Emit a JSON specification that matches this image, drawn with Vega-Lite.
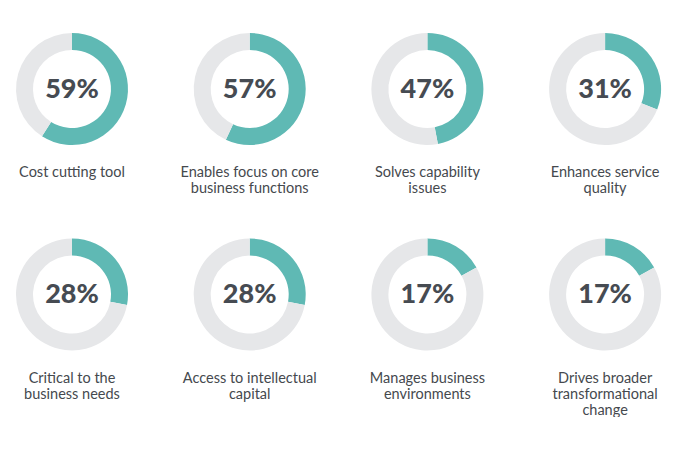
{
  "$schema": "https://vega.github.io/schema/vega-lite/v6.json",
  "padding": 0,
  "background": "white",
  "bounds": "flush",
  "config": {"view": {"stroke": null}, "header": {"labels": false, "title": null, "labelExpr": "''", "labelPadding": 0, "titlePadding": 0, "labelFontSize": 0}},
  "data": {
    "values": [
      {"rank": 1, "cat": "Cost cutting tool", "label": ["Cost cutting tool"], "seg": "a", "value": 0.59},
      {"rank": 1, "cat": "Cost cutting tool", "label": ["Cost cutting tool"], "seg": "b", "value": 0.41},
      {"rank": 2, "cat": "Enables focus", "label": ["Enables focus on core", "business functions"], "seg": "a", "value": 0.57},
      {"rank": 2, "cat": "Enables focus", "label": ["Enables focus on core", "business functions"], "seg": "b", "value": 0.43},
      {"rank": 3, "cat": "Solves capability", "label": ["Solves capability", "issues"], "seg": "a", "value": 0.47},
      {"rank": 3, "cat": "Solves capability", "label": ["Solves capability", "issues"], "seg": "b", "value": 0.53},
      {"rank": 4, "cat": "Enhances service", "label": ["Enhances service", "quality"], "seg": "a", "value": 0.31},
      {"rank": 4, "cat": "Enhances service", "label": ["Enhances service", "quality"], "seg": "b", "value": 0.69},
      {"rank": 5, "cat": "Critical", "label": ["Critical to the", "business needs"], "seg": "a", "value": 0.28},
      {"rank": 5, "cat": "Critical", "label": ["Critical to the", "business needs"], "seg": "b", "value": 0.72},
      {"rank": 6, "cat": "Access", "label": ["Access to intellectual", "capital"], "seg": "a", "value": 0.28},
      {"rank": 6, "cat": "Access", "label": ["Access to intellectual", "capital"], "seg": "b", "value": 0.72},
      {"rank": 7, "cat": "Manages", "label": ["Manages business", "environments"], "seg": "a", "value": 0.17},
      {"rank": 7, "cat": "Manages", "label": ["Manages business", "environments"], "seg": "b", "value": 0.83},
      {"rank": 8, "cat": "Drives", "label": ["Drives broader", "transformational", "change"], "seg": "a", "value": 0.17},
      {"rank": 8, "cat": "Drives", "label": ["Drives broader", "transformational", "change"], "seg": "b", "value": 0.83}
    ]
  },
  "facet": {
    "field": "cat",
    "type": "nominal",
    "sort": {"field": "rank", "op": "min"},
    "header": {"title": null, "labels": false, "labelExpr": "''"}
  },
  "columns": 4,
  "spacing": {"column": 33.7, "row": 27.5},
  "spec": {
    "width": 144,
    "height": 178,
    "layer": [
      {
        "mark": {"type": "arc", "outerRadius": 56, "innerRadius": 39},
        "encoding": {
          "theta": {"field": "value", "type": "quantitative", "stack": true},
          "order": {"field": "seg", "type": "nominal"},
          "color": {
            "field": "seg",
            "type": "nominal",
            "scale": {"domain": ["a", "b"], "range": ["#5fb9b4", "#e6e7e9"]},
            "legend": null
          }
        }
      },
      {
        "transform": [{"filter": "datum.seg === 'a'"}],
        "mark": {"type": "text", "font": "Lato", "fontWeight": 900, "fontSize": 27, "color": "#464b52", "baseline": "middle", "align": "center", "dy": 0.5},
        "encoding": {
          "text": {"field": "value", "type": "quantitative", "format": ".0%"}
        }
      },
      {
        "transform": [{"filter": "datum.seg === 'a'"}],
        "mark": {"type": "text", "font": "Lato", "fontSize": 14.5, "color": "#45494e", "baseline": "alphabetic", "align": "center", "dy": 88, "lineHeight": 16},
        "encoding": {
          "text": {"field": "label", "type": "nominal"}
        }
      }
    ]
  }
}
